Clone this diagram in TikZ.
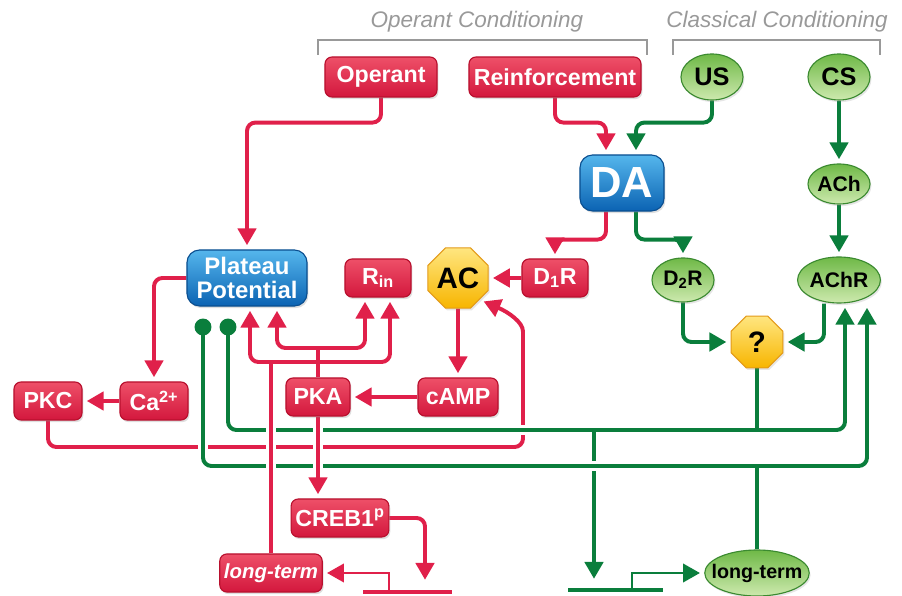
\documentclass[tikz,border=0pt]{standalone}
\usepackage{fontspec}
\setmainfont{Liberation Sans}
\usetikzlibrary{positioning, arrows.meta, shapes.geometric, shadows, calc}
\definecolor{redTop}{HTML}{EE5068}
\definecolor{redBot}{HTML}{D3173D}
\definecolor{redEdge}{HTML}{B8102E}
\definecolor{redLine}{HTML}{E0204A}
\definecolor{blueTop}{HTML}{55B6EC}
\definecolor{blueBot}{HTML}{0B63B3}
\definecolor{blueEdge}{HTML}{0A4E8F}
\definecolor{greenTop}{HTML}{6FB947}
\definecolor{greenBot}{HTML}{CDE9AE}
\definecolor{greenEdge}{HTML}{3B8A30}
\definecolor{greenLine}{HTML}{0A7E3C}
\definecolor{yellowTop}{HTML}{FFE680}
\definecolor{yellowBot}{HTML}{F7B500}
\definecolor{yellowEdge}{HTML}{E39A1A}
\definecolor{titleGrey}{HTML}{999999}
\pgfdeclarelayer{bg}
\pgfsetlayers{bg,main}

\begin{document}
\begin{tikzpicture}[x=0.025cm, y=-0.025cm,
    redbox/.style={draw=redEdge, thick, rounded corners=5pt, top color=redTop, bottom color=redBot,
      text=white, font=\bfseries\fontsize{16.5}{18}\selectfont, minimum height=0.95cm, inner xsep=3pt,
      drop shadow={opacity=0.25, shadow xshift=1pt, shadow yshift=-1.5pt}},
    bluebox/.style={draw=blueEdge, thick, rounded corners=9pt, top color=blueTop, bottom color=blueBot,
      text=white, font=\bfseries\fontsize{17}{17.5}\selectfont,
      drop shadow={opacity=0.25, shadow xshift=1pt, shadow yshift=-1.5pt}},
    greenoval/.style={ellipse, draw=greenEdge, thick, top color=greenTop, bottom color=greenBot,
      text=black, font=\bfseries\fontsize{15}{17}\selectfont, inner xsep=0pt, inner ysep=0pt,
      drop shadow={opacity=0.2, shadow xshift=1pt, shadow yshift=-1.5pt}},
    yellowoct/.style={regular polygon, regular polygon sides=8, draw=yellowEdge, thick,
      top color=yellowTop, bottom color=yellowBot, inner sep=0pt,
      text=black, font=\bfseries\fontsize{21}{23}\selectfont,
      drop shadow={opacity=0.2, shadow xshift=1pt, shadow yshift=-1.5pt}},
    rline/.style={draw=redLine, line width=2.8pt, rounded corners=6pt},
    gline/.style={draw=greenLine, line width=2.8pt, rounded corners=6pt},
    arr/.style={-{Triangle[length=12pt,width=13pt]}, shorten >=3pt},
    dotarr/.style={{Circle[length=12pt]}-{Triangle[length=12pt,width=13pt]}, shorten >=3pt},
    over/.style={preaction={draw=white, line width=7pt, -}},
    heading/.style={font=\itshape\fontsize{16}{18}\selectfont, text=titleGrey}]
  \useasboundingbox (0,0) rectangle (902,596);

  % headings and brackets
  \node[heading] (opc) at (477,22) {Operant Conditioning};
  \node[heading] (clc) at (777,22) {Classical Conditioning};
  \draw[titleGrey, line width=1.4pt] (318,55) |- (647,40) -- (647,55);
  \draw[titleGrey, line width=1.4pt] (673,55) |- (880,40) -- (880,55);

  % top row
  \node[redbox, minimum width=2.8cm, minimum height=1.0cm] (op) at (381,77) {Operant};
  \node[redbox, minimum width=4.3cm, minimum height=1.0cm] (rf) at (555,77) {Reinforcement};
  \node[greenoval, minimum width=1.55cm, minimum height=1.15cm, font=\bfseries\fontsize{18}{20}\selectfont] (us) at (712,77) {US};
  \node[greenoval, minimum width=1.55cm, minimum height=1.15cm, font=\bfseries\fontsize{18}{20}\selectfont] (cs) at (839,77) {CS};

  % transmitters and receptors
  \node[bluebox, minimum width=2.1cm, minimum height=1.4cm, font=\bfseries\fontsize{31}{33}\selectfont] (da) at (622,183) {DA};
  \node[greenoval, minimum width=1.55cm, minimum height=1.0cm] (ach) at (839,184) {ACh};
  \node[bluebox, minimum width=3.0cm, minimum height=1.4cm, align=center] (pp) at (247,278) {Plateau\\Potential};
  \node[redbox, minimum width=1.65cm] (rin) at (378,278) {R\textsubscript{in}};
  \node[yellowoct, minimum size=1.5cm] (ac) at (458,278) {AC};
  \node[redbox, minimum width=1.65cm] (d1r) at (555,278) {D\textsubscript{1}R};
  \node[greenoval, minimum width=1.55cm, minimum height=1.1cm] (d2r) at (683,280) {D\textsubscript{2}R};
  \node[greenoval, minimum width=1.95cm, minimum height=1.15cm] (achr) at (839,280) {AChR};
  \node[yellowoct, minimum size=1.4cm] (q) at (757,342) {?};

  % second messengers
  \node[redbox, minimum width=1.7cm] (pkc) at (48,401) {PKC};
  \node[redbox, minimum width=1.7cm] (ca) at (154,401) {Ca\textsuperscript{2+}};
  \node[redbox, minimum width=1.6cm] (pka) at (318,397) {PKA};
  \node[redbox, minimum width=2.0cm] (camp) at (458,397) {cAMP};
  \node[redbox, minimum width=2.4cm] (creb) at (340,518) {CREB1\textsuperscript{p}};
  \node[redbox, minimum width=2.55cm, font=\bfseries\itshape\fontsize{14.5}{16}\selectfont] (rlt) at (271,573) {long-term};
  \node[greenoval, minimum width=2.6cm, minimum height=1.15cm, inner xsep=-6pt, font=\bfseries\fontsize{14}{15}\selectfont] (glt) at (757,573) {long-term};

  % junctions
  \coordinate (ubus) at (0,430);
  \coordinate (lbus) at (0,466);
  \coordinate (ltJ) at (271,362);
  \coordinate (pkaJ) at (318,348);

  \begin{pgfonlayer}{bg}
    % PKC back to AC, lowest line
    \draw[rline, arr] (pkc.south) |- (523,447) -- (523,340)
      .. controls (523,322) and (508,312) .. (ac.south east);
    % upper green bus
    \draw[gline, over, dotarr] ($(pp.south)+(-19,12)$) |- (845,430) -- ($(achr.south)+(6,0)$);
    \draw[gline] (q.south) -- (q.south |- ubus);
    \draw[gline, arr] (594,430) -- (594,583);
    % lower green bus
    \draw[gline, over, dotarr] ($(pp.south)+(-44,12)$) |- (867,466) -- ($(achr.south)+(28,0)$);
    \draw[gline] (glt.north) -- (glt.north |- lbus);
    % red lines crossing the buses
    \draw[rline, over, arr] (pka.south) -- (pka.south |- creb.north);
    \draw[rline, over] (rlt.north) -- (ltJ);
    \draw[rline, arr] (ltJ) -| ($(pp.south)+(3,0)$);
    \draw[rline, arr] (ltJ) -| ($(rin.south)+(12,0)$);
    \draw[rline] (pka.north) -- (pkaJ);
    \draw[rline, arr] (pkaJ) -| ($(pp.south)+(30,0)$);
    \draw[rline, arr] (pkaJ) -| ($(rin.south)+(-13,0)$);

    % top of the pathway
    \draw[rline, arr] (op.south) -- ++(0,25) -| (pp.north);
    \draw[rline, arr] (rf.south) -- ++(0,25) -| ($(da.north)+(-16,0)$);
    \draw[gline, arr] (us.south) -- ++(0,22) -| ($(da.north)+(14,0)$);
    \draw[gline, arr] (cs) -- (ach);
    \draw[gline, arr] (ach) -- (achr);
    \draw[rline, arr] ($(da.south)+(-16,0)$) -- ++(0,28) -| (d1r.north);
    \draw[gline, arr] ($(da.south)+(14,0)$) -- ++(0,28) -| (d2r.north);
    \draw[rline, arr] (d1r) -- (ac);
    \draw[rline, arr] (ac) -- (camp);
    \draw[rline, arr] (camp) -- (pka);
    \draw[rline, arr] (pp.west) -| (ca.north);
    \draw[rline, arr] (ca) -- (pkc);
    \draw[gline, arr] (d2r.south) |- (q.west);
    \draw[gline, arr] ($(achr.south)+(-15,0)$) |- (q.east);

    % genes
    \draw[rline, arr] (creb.east) -| (425,584);
    \draw[redLine, line width=3.2pt] (363,592) -- (452,592);
    \draw[redLine, line width=2pt, arr] (389,592) |- (rlt.east);
    \draw[greenLine, line width=3.2pt] (568,590) -- (663,590);
    \draw[greenLine, line width=2pt, arr] (632,590) |- (glt.west);
  \end{pgfonlayer}
\end{tikzpicture}
\end{document}
